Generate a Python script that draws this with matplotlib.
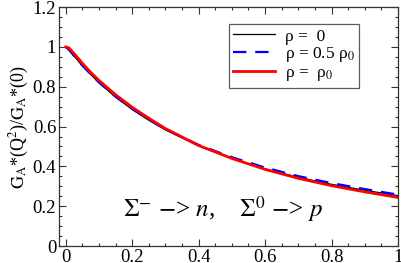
import matplotlib
matplotlib.use("Agg")
import matplotlib.pyplot as plt
from matplotlib.ticker import MultipleLocator

plt.rcParams['font.family'] = ['Liberation Serif', 'DejaVu Serif']
plt.rcParams['mathtext.fontset'] = 'stix'

# data
q2 = [0, 0.01, 0.03, 0.05, 0.075, 0.1, 0.15, 0.2, 0.25, 0.3, 0.4, 0.5, 0.6, 0.7, 0.8, 0.9, 1.0]
ratio_rho0 = [1.0, 0.985, 0.945, 0.905, 0.862, 0.82, 0.748, 0.686, 0.632, 0.583, 0.503, 0.44, 0.388, 0.345, 0.31, 0.28, 0.253]
ratio_rho05 = [1.0, 0.985, 0.946, 0.907, 0.864, 0.823, 0.751, 0.689, 0.636, 0.587, 0.508, 0.446, 0.394, 0.351, 0.316, 0.286, 0.258]
ratio_rho1 = [1.0, 0.995, 0.958, 0.918, 0.873, 0.832, 0.76, 0.697, 0.642, 0.59, 0.505, 0.44, 0.385, 0.34, 0.303, 0.272, 0.244]

labels = ['ρ =  0', r'ρ = 0.5 ρ$_0$', r'ρ =  ρ$_0$']

fig = plt.figure(figsize=(4.02, 2.63), dpi=100)
ax = fig.add_axes([0.1468, 0.0646, 0.8432, 0.9084])

ax.plot(q2, ratio_rho0, color='black', lw=0.9, label=labels[0])
ax.plot(q2, ratio_rho05, color='#0000ff', lw=1.6, dashes=(6, 4), label=labels[1])
ax.plot(q2, ratio_rho1, color='#ff0000', lw=2.0, label=labels[2])

ax.set_xlim(-0.02, 1.0)
ax.set_ylim(0, 1.2)
ax.xaxis.set_minor_locator(MultipleLocator(0.05))
ax.yaxis.set_minor_locator(MultipleLocator(0.05))
ax.set_xticks([0, 0.2, 0.4, 0.6, 0.8, 1.0])
ax.set_xticklabels(['0', '0.2', '0.4', '0.6', '0.8', '1'])
ax.set_yticks([0, 0.2, 0.4, 0.6, 0.8, 1.0, 1.2])
ax.set_yticklabels(['0', '0.2', '0.4', '0.6', '0.8', '1', '1.2'])
ax.tick_params(which='both', direction='in', top=True, right=True, colors='#333333', labelcolor='black')
ax.tick_params(which='major', length=5, width=0.8, labelsize=13.5, pad=2)
ax.tick_params(which='minor', length=2.5, width=0.8)
for s in ax.spines.values():
    s.set_color('#333333')
    s.set_linewidth(0.9)

ax.set_ylabel(r'$\mathrm{G_A}$*(Q$^2$)/$\mathrm{G_A}$*(0)', fontsize=13, labelpad=1)

leg = ax.legend(loc='upper left', bbox_to_anchor=(0.501, 0.929), fontsize=12.5,
                frameon=True, fancybox=False, handlelength=2.4, handletextpad=0.6,
                labelspacing=0.05, borderpad=0.25, borderaxespad=0)
leg.get_frame().set_edgecolor('#333333')
leg.get_frame().set_linewidth(0.9)

ax.text(0.19, 0.122, r'$\Sigma^{-}$ $-$> $n$,    $\Sigma^{0}$ $-$> $p$',
        transform=ax.transAxes, fontsize=18, va='baseline', ha='left')

fig.savefig('out.png', dpi=100)
